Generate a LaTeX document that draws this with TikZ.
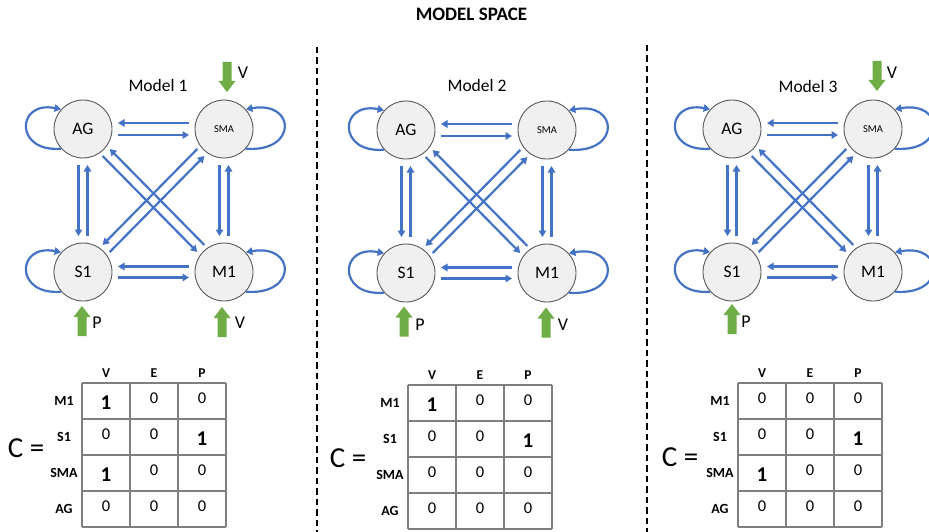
\documentclass[tikz,border=0pt]{standalone}
\usepackage{fontspec}
\setmainfont{Carlito}
\usetikzlibrary{calc,arrows.meta}
\definecolor{eblue}{HTML}{4472C4}
\definecolor{egreen}{HTML}{70AD47}
\definecolor{nodefill}{HTML}{F0F0F0}
\definecolor{nodeline}{HTML}{595959}
\definecolor{gridc}{HTML}{7F7F7F}
\tikzset{
  region/.style={circle, draw=nodeline, line width=0.9pt, fill=nodefill, minimum size=58pt, inner sep=0pt, font=\fontsize{17.5}{19}\selectfont},
  smallregion/.style={region, font=\fontsize{10.5}{12}\selectfont},
  conn/.style={draw=eblue, line width=2.2pt, -{Triangle[length=6.5pt,width=7.5pt]}},
  divider/.style={line width=2pt, dash pattern=on 6.5pt off 4pt},
  gtext/.style={font=\fontsize{18}{20}\selectfont},
  mlabel/.style={font=\fontsize{17.5}{19}\selectfont},
  titletext/.style={font=\bfseries\fontsize{19}{21}\selectfont},
  colhead/.style={font=\bfseries\fontsize{13.5}{15}\selectfont},
  rowhead/.style={font=\bfseries\fontsize{14}{16}\selectfont},
  zero/.style={font=\fontsize{16.5}{18}\selectfont},
  one/.style={font=\bfseries\fontsize{21}{23}\selectfont},
  ceq/.style={font=\fontsize{29}{31}\selectfont},
  gridline/.style={draw=gridc, line width=1.3pt},
  garrow/.pic={\fill[egreen] (-4.5,-15) -- (4.5,-15) -- (4.5,4) -- (8.5,4) -- (0,15) -- (-8.5,4) -- (-4.5,4) -- cycle;},
}
\newcommand\modelgraph[3]{%
  \begin{scope}[shift={(#2,#3)}]
    \node[region] (#1AG) at (0,0) {AG};
    \node[smallregion] (#1SMA) at (141,0) {SMA};
    \node[region] (#1S1) at (0,143) {S1};
    \node[region] (#1M1) at (141,143) {M1};
  \end{scope}
  \foreach \a/\b/\d/\s in {AG/SMA/6pt/35pt, SMA/AG/6pt/35pt, S1/M1/5.5pt/35pt, M1/S1/5.5pt/35pt,
      AG/S1/4.5pt/36pt, S1/AG/4.5pt/36pt, SMA/M1/4.5pt/36pt, M1/SMA/4.5pt/36pt,
      AG/M1/5pt/33pt, M1/AG/5pt/33pt, SMA/S1/5pt/33pt, S1/SMA/5pt/33pt}{
    \draw[conn, shorten <=\s, shorten >=\s] ($(#1\a.center)!\d!-90:(#1\b.center)$) -- ($(#1\b.center)!\d!90:(#1\a.center)$);
  }
  \draw[conn] (#1AG.222) .. controls +(-47,4) and +(-45,-9) .. (#1AG.138);
  \draw[conn] (#1S1.222) .. controls +(-47,4) and +(-45,-9) .. (#1S1.138);
  \draw[conn] (#1SMA.-42) .. controls +(52,4) and +(50,-9) .. (#1SMA.42);
  \draw[conn] (#1M1.-42) .. controls +(52,4) and +(50,-9) .. (#1M1.42);
}
\newcommand\cmat[4]{%
  \begin{scope}[shift={(#1,#2)}]
    \foreach \yy in {0,36,72,108,144} \draw[gridline] (0,\yy) -- (144,\yy);
    \foreach \xx in {0,48,96,144} \draw[gridline] (\xx,0) -- (\xx,144);
    \foreach \h [count=\k from 0] in {V,E,P} \node[colhead] (#4h\k) at (24+48*\k,-10) {\h};
    \foreach \h [count=\k from 0] in {M1,S1,SMA,AG} \node[rowhead] (#4r\k) at (-18,18+36*\k) {\h};
    \foreach \v [count=\k from 0] in {#3} {
      \pgfmathtruncatemacro\rr{int(\k/3)}
      \pgfmathtruncatemacro\cc{\k-3*\rr}
      \ifnum\v=1 \node[one] (#4c\k) at (24+48*\cc,20+36*\rr) {1};
      \else \node[zero] (#4c\k) at (24+48*\cc,15+36*\rr) {0};\fi
    }
  \end{scope}}
\begin{document}
\begin{tikzpicture}[x=1pt,y=-1pt]
\useasboundingbox (0,0) rectangle (929,532);
\node[titletext] (title) at (471.5,14) {MODEL SPACE};
\draw[divider] (316.5,47) -- (316.5,532);
\draw[divider] (646.5,45) -- (646.5,532);
% Model 1
\modelgraph{a}{83}{129}
\node[mlabel] (m1lab) at (158,85) {Model 1};
\pic at (227,77) {garrow};
\node[gtext] (a-v1) at (243,73) {V};
\pic[rotate=180] at (82,321) {garrow};
\node[gtext] (a-p) at (97,323) {P};
\pic[rotate=180] at (222,322) {garrow};
\node[gtext] (a-v2) at (240,323) {V};
\node[ceq] (a-c) at (26,448) {C =};
\cmat{82}{383}{1,0,0,0,0,1,1,0,0,0,0,0}{ta}
% Model 2
\modelgraph{b}{406}{130}
\node[mlabel] (m2lab) at (477,85) {Model 2};
\pic[rotate=180] at (404,321.5) {garrow};
\node[gtext] (b-p) at (420,325) {P};
\pic[rotate=180] at (546,322.5) {garrow};
\node[gtext] (b-v) at (563,325) {V};
\node[ceq] (b-c) at (348,458) {C =};
\cmat{408}{385}{1,0,0,0,0,1,0,0,0,0,0,0}{tb}
% Model 3
\modelgraph{c}{732}{129}
\node[mlabel] (m3lab) at (808,86) {Model 3};
\pic at (877,76) {garrow};
\node[gtext] (c-v) at (892,73) {V};
\pic[rotate=180] at (732,319) {garrow};
\node[gtext] (c-p) at (746,322) {P};
\node[ceq] (c-c) at (680,457) {C =};
\cmat{738}{383}{0,0,0,0,0,1,1,0,0,0,0,0}{tc}
\end{tikzpicture}
\end{document}
